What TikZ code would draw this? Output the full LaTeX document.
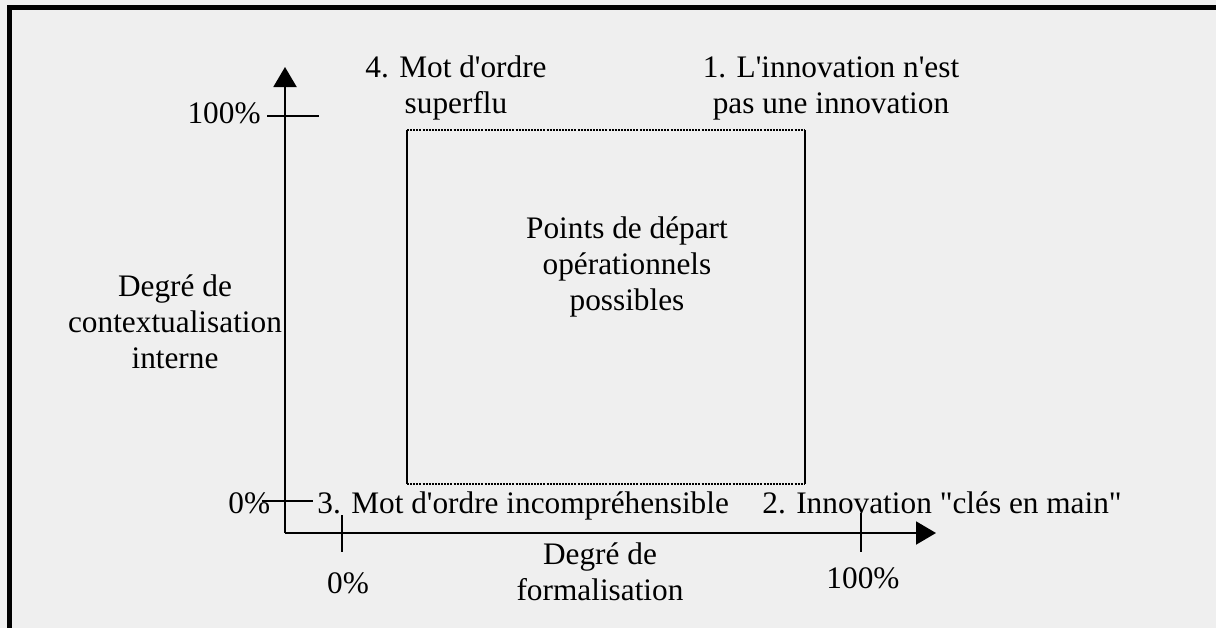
\documentclass[tikz,border=0pt]{standalone}
\usepackage{fontspec}
\setmainfont{Liberation Serif}
\usetikzlibrary{arrows.meta}
\definecolor{paper}{HTML}{EFEFEF}
\begin{document}
\begin{tikzpicture}[x=0.5pt,y=-0.5pt,
  lbl/.style={font=\fontsize{15.65}{18}\selectfont, inner sep=0pt, align=center},
  axis/.style={line width=1pt, -{Triangle[length=10pt,width=11.5pt]}},
  tickline/.style={line width=1pt},
  solidside/.style={line width=1pt},
  dotside/.style={line width=1.1pt, dash pattern=on 1pt off 0.55pt},
]
% page and frame
\fill[paper] (0,0) rectangle (1216,628);
\useasboundingbox (0,0) rectangle (1216,628);
\fill[black] (7,5) rectangle (1216,10);
\fill[black] (7,5) rectangle (12,628);

% axes
\coordinate (O) at (285,533);
\coordinate (ytop) at (285,67);
\coordinate (xend) at (936,533);
\draw[axis] (O) -- (ytop);
\draw[axis] (O) -- (xend);

% zone of possible starting points
\coordinate (r1) at (407,130);
\coordinate (r2) at (805,130);
\coordinate (r3) at (805,484);
\coordinate (r4) at (407,484);
\draw[solidside] (r1) -- (r4);
\draw[solidside] (r2) -- (r3);
\draw[dotside] (r1) -- (r2);
\draw[dotside] (r4) -- (r3);

% labels (multi-line nodes are placed by the baseline of their last line)
\node[lbl, anchor=base east] (y100) at (261,123) {100\%};
\node[lbl, anchor=base west] (y0) at (228,513) {0\%};
\node[lbl, anchor=base west] (q3) at (317,513) {3. Mot d\textquotesingle ordre incompréhensible};
\node[lbl, anchor=base west] (q2) at (762,513) {2. Innovation \textquotedbl clés en main\textquotedbl};
\node[lbl, anchor=base] (x0) at (348,593) {0\%};
\node[lbl, anchor=base] (x100) at (863,588) {100\%};
\node[lbl, anchor=base] (q4) at (456,113) {4. Mot d\textquotesingle ordre\\superflu};
\node[lbl, anchor=base] (q1) at (831,113) {1. L\textquotesingle innovation n\textquotesingle est\\pas une innovation};
\node[lbl, anchor=base] (ylab) at (175,368) {Degré de\\contextualisation\\interne};
\node[lbl, anchor=base] (mid) at (627,310) {Points de départ\\opérationnels\\possibles};
\node[lbl, anchor=base] (xlab) at (600,600) {Degré de\\formalisation};

% scale ticks
\draw[tickline] (267,116) -- (319,116);
\draw[tickline] (262,501) -- (313,501);
\draw[tickline] (342,515) -- (342,552);
\draw[tickline] (861,513) -- (861,552);
\end{tikzpicture}
\end{document}
